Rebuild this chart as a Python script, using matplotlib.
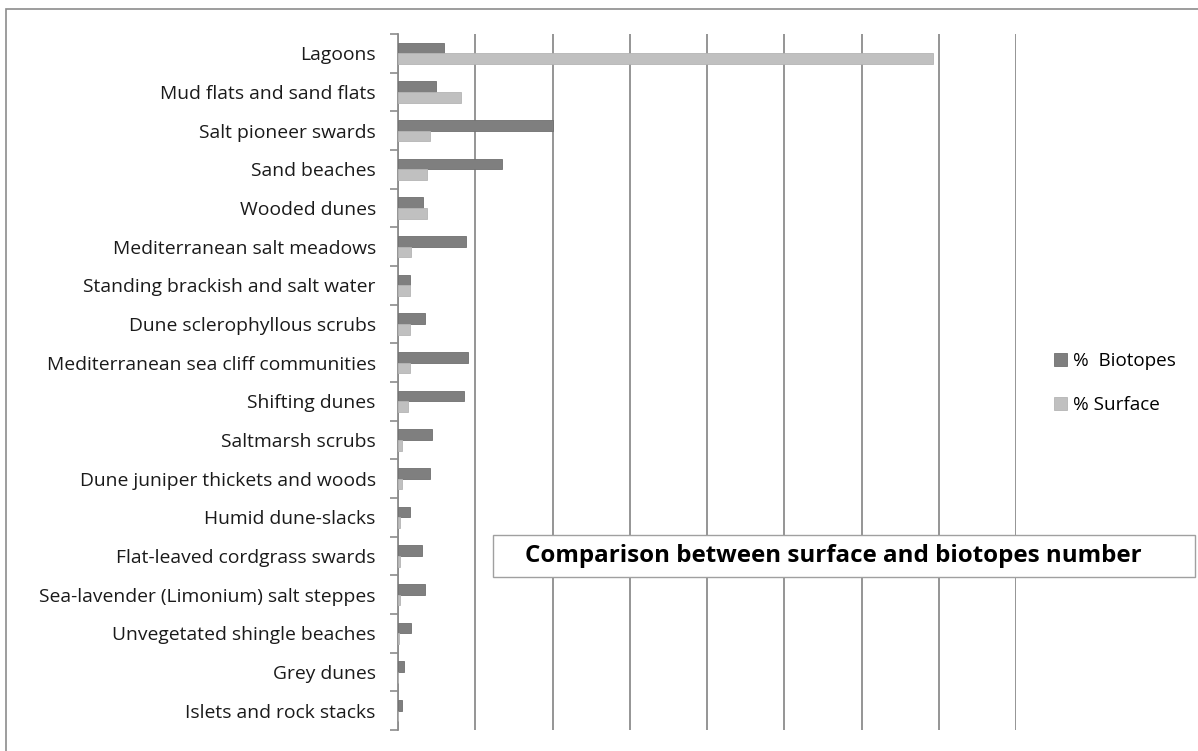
import numpy as np
import matplotlib
matplotlib.use("Agg")
import matplotlib.pyplot as plt
from matplotlib.patches import Rectangle

habitats = [
    "Lagoons",
    "Mud flats and sand flats",
    "Salt pioneer swards",
    "Sand beaches",
    "Wooded dunes",
    "Mediterranean salt meadows",
    "Standing brackish and salt water",
    "Dune sclerophyllous scrubs",
    "Mediterranean sea cliff communities",
    "Shifting dunes",
    "Saltmarsh scrubs",
    "Dune juniper thickets and woods",
    "Humid dune-slacks",
    "Flat-leaved cordgrass swards",
    "Sea-lavender (Limonium) salt steppes",
    "Unvegetated shingle beaches",
    "Grey dunes",
    "Islets and rock stacks",
]
pct_biotopes = [6.0, 4.9, 20.0, 13.5, 3.3, 8.8, 1.5, 3.5, 9.0, 8.5,
                4.45, 4.2, 1.5, 3.1, 3.5, 1.7, 0.75, 0.57]
pct_surface = [69.3, 8.1, 4.2, 3.75, 3.75, 1.7, 1.5, 1.5, 1.5, 1.25,
               0.57, 0.57, 0.3, 0.3, 0.3, 0.1, 0.05, 0.05]

plt.rcParams['font.family'] = ['Open Sans', 'DejaVu Sans']

fig = plt.figure(figsize=(11.98, 7.51), dpi=100)
fig.patches.append(Rectangle((6 / 1198, -0.1), 1.2, 1 - 9 / 751 + 0.1,
                             transform=fig.transFigure, fill=False,
                             edgecolor='#8c8c8c', lw=1.2))

ax = fig.add_axes([398 / 1198, 1 - 730 / 751, (1016 - 398) / 1198, (730 - 34) / 751])

y = np.arange(len(habitats))
h = 0.275
dark = '#7f7f7f'
light = '#c0c0c0'
ax.barh(y - h / 2, pct_biotopes, height=h, color=dark, edgecolor='#707070', lw=0.6,
        label='%  Biotopes', zorder=3)
ax.barh(y + h / 2, pct_surface, height=h, color=light, edgecolor='#b5b5b5', lw=0.6,
        label='% Surface', zorder=3)

ax.set_xlim(0, 80)
ax.set_ylim(len(habitats) - 0.5, -0.5)
ax.set_xticks(np.arange(0, 81, 10))
ax.tick_params(axis='x', length=0, labelbottom=False)
ax.grid(axis='x', color='#8c8c8c', lw=1.3, zorder=0)

ax.set_yticks(y)
ax.set_yticklabels(habitats, fontsize=13.9, color='#1a1a1a')
ax.set_yticks(np.arange(len(habitats) + 1) - 0.5, minor=True)
ax.tick_params(axis='y', which='major', length=0, pad=16)
ax.tick_params(axis='y', which='minor', length=6, width=1.2, color='#8c8c8c')

for s in ['top', 'right', 'bottom']:
    ax.spines[s].set_visible(False)
ax.spines['left'].set_color('#8c8c8c')
ax.spines['left'].set_linewidth(1.3)

fig.legend(loc='center left', bbox_to_anchor=(1037 / 1198, 1 - 383 / 751),
           frameon=False, fontsize=13.6, handlelength=0.7, handleheight=0.7,
           handletextpad=0.3, labelspacing=1.35)

fig.text(525 / 1198, 1 - 556 / 751, "Comparison between surface and biotopes number",
         fontsize=17.4, fontweight='bold', va='center', ha='left', color='black',
         zorder=10)
fig.patches.append(Rectangle((493 / 1198, 1 - 577 / 751), (1195 - 493) / 1198, 42 / 751,
                             transform=fig.transFigure, facecolor='white',
                             edgecolor='#a0a0a0', lw=1.0, zorder=5))

fig.savefig('out.png', dpi=100)
